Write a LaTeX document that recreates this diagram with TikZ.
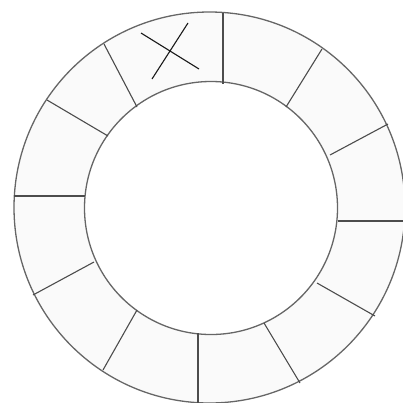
\documentclass[tikz,border=0pt]{standalone}
\begin{document}
\begin{tikzpicture}[x=1pt,y=-1pt,
  ring/.style={draw=black!60,line width=1.3pt},
  spoke/.style={draw=black!70,line width=1.1pt},
  cross/.style={draw=black!90,line width=1.1pt}]
\useasboundingbox (0,0) rectangle (403,402);
\clip (0,0) rectangle (403,402);
\fill[black!2,even odd rule] (209.5,207.5) circle[radius=195.5] (211,208) circle[radius=126.5];
\draw[ring] (209.5,207.5) circle[radius=195.5];
\draw[ring] (211,208) circle[radius=126.5];
% spokes
\draw[spoke] (223,13) -- (223,84);
\draw[spoke] (322,49) -- (286,107);
\draw[spoke] (388,124) -- (330,155);
\draw[spoke] (405,221) -- (338,221);
\draw[spoke] (375,316) -- (317,283);
\draw[spoke] (300,383) -- (264,323);
\draw[spoke] (198,405) -- (198,333);
\draw[spoke] (103,370) -- (137,310);
\draw[spoke] (33,295) -- (94,262);
\draw[spoke] (14,196) -- (85,196);
\draw[spoke] (47,100) -- (108,136);
\draw[spoke] (104,44) -- (137,107);
% cross
\draw[cross] (141,33) -- (199,69);
\draw[cross] (188,23) -- (152,79);
\end{tikzpicture}
\end{document}
